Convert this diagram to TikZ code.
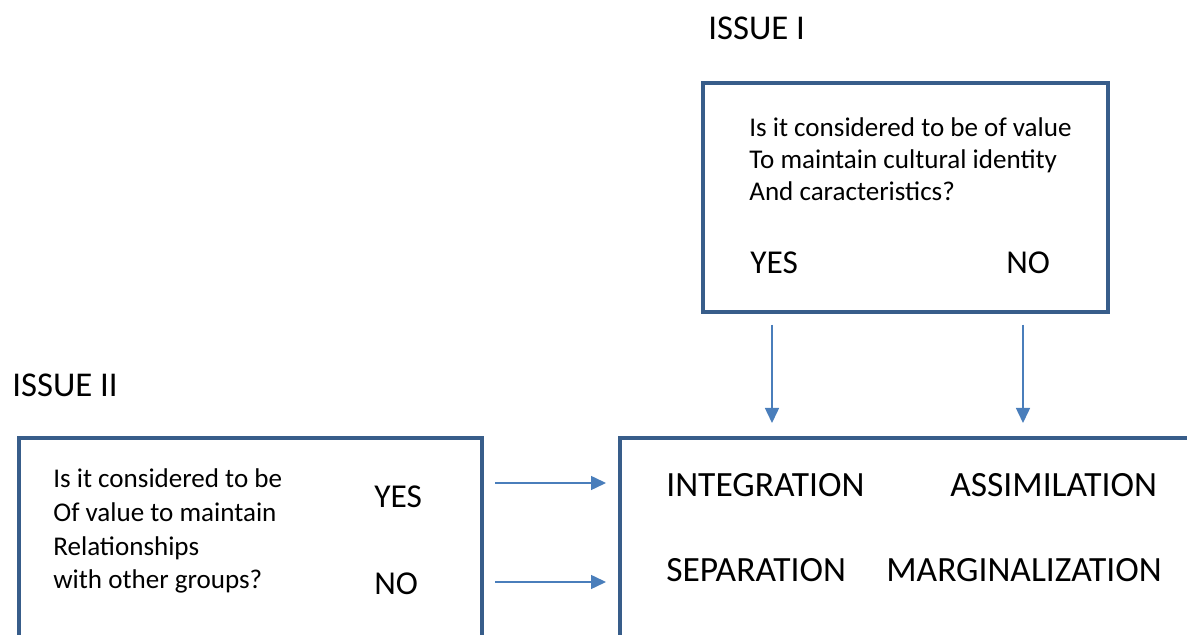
\documentclass[tikz,border=0pt]{standalone}
\usepackage{fontspec}
\setmainfont{Carlito}
\usepackage{tikz}
\usetikzlibrary{arrows.meta, positioning}
\definecolor{boxline}{RGB}{56,93,138}
\definecolor{arrowblue}{RGB}{74,126,187}

\begin{document}
\begin{tikzpicture}[
		x=0.02cm, y=0.02cm,
		kotak/.style={draw=boxline, line width=2.3pt, rectangle, inner sep=0pt},
		tanya/.style={anchor=west, inner sep=0pt, align=left, font=\fontsize{15.4}{18.1}\selectfont},
		jawab/.style={anchor=west, inner sep=0pt, font=\fontsize{19}{22}\selectfont},
		hasil/.style={anchor=west, inner sep=0pt, font=\fontsize{20.2}{24}\selectfont},
		judul/.style={anchor=west, inner sep=0pt, font=\fontsize{19.8}{22}\selectfont},
		panah/.style={-{Triangle[length=0.3cm, width=0.28cm]}, draw=arrowblue, fill=arrowblue, line width=0.85pt}
	]
	\useasboundingbox (0,0) rectangle (1187,635);
	\clip (0,0) rectangle (1187,635);

	% Kotak
	\node[kotak, minimum width=8.1cm, minimum height=4.58cm] at (905.5,437.5) (issuebox1) {};
	\draw[boxline, line width=2.3pt] (19,-20) |- (482,197) -- (482,-20);
	\draw[boxline, line width=2.3pt] (620,-20) |- (1240,197);

	% Teks
	\node[judul] (issue1) at (708,607) {ISSUE I};
	\node[judul] (issue2) at (12,250) {ISSUE II};
	\node[tanya] (q1) at (749,476) {Is it considered to be of value\\To maintain cultural identity\\And caracteristics?};
	\node[jawab] (yes1) at (750,372) {YES};
	\node[jawab] (no1) at (1006,372) {NO};
	\node[tanya, font=\fontsize{15.4}{19.3}\selectfont] (q2) at (53,104) {Is it considered to be\\Of value to maintain\\Relationships\\with other groups?};
	\node[jawab] (yes2) at (374,138) {YES};
	\node[jawab] (no2) at (374,51) {NO};
	\node[hasil] (integ) at (666,150) {INTEGRATION};
	\node[hasil] (assim) at (950,150) {ASSIMILATION};
	\node[hasil] (separ) at (666,65) {SEPARATION};
	\node[hasil] (margi) at (886,65) {MARGINALIZATION};

	% Ujung panah
	\coordinate (a1) at (772,310);
	\coordinate (a2) at (772,212);
	\coordinate (b1) at (1023,310);
	\coordinate (b2) at (1023,212);
	\coordinate (c1) at (495,152);
	\coordinate (c2) at (606,152);
	\coordinate (d1) at (495,53);
	\coordinate (d2) at (606,53);

	% Panah
	\draw[panah] (a1) -- (a2);
	\draw[panah] (b1) -- (b2);
	\draw[panah] (c1) -- (c2);
	\draw[panah] (d1) -- (d2);
\end{tikzpicture}
\end{document}
